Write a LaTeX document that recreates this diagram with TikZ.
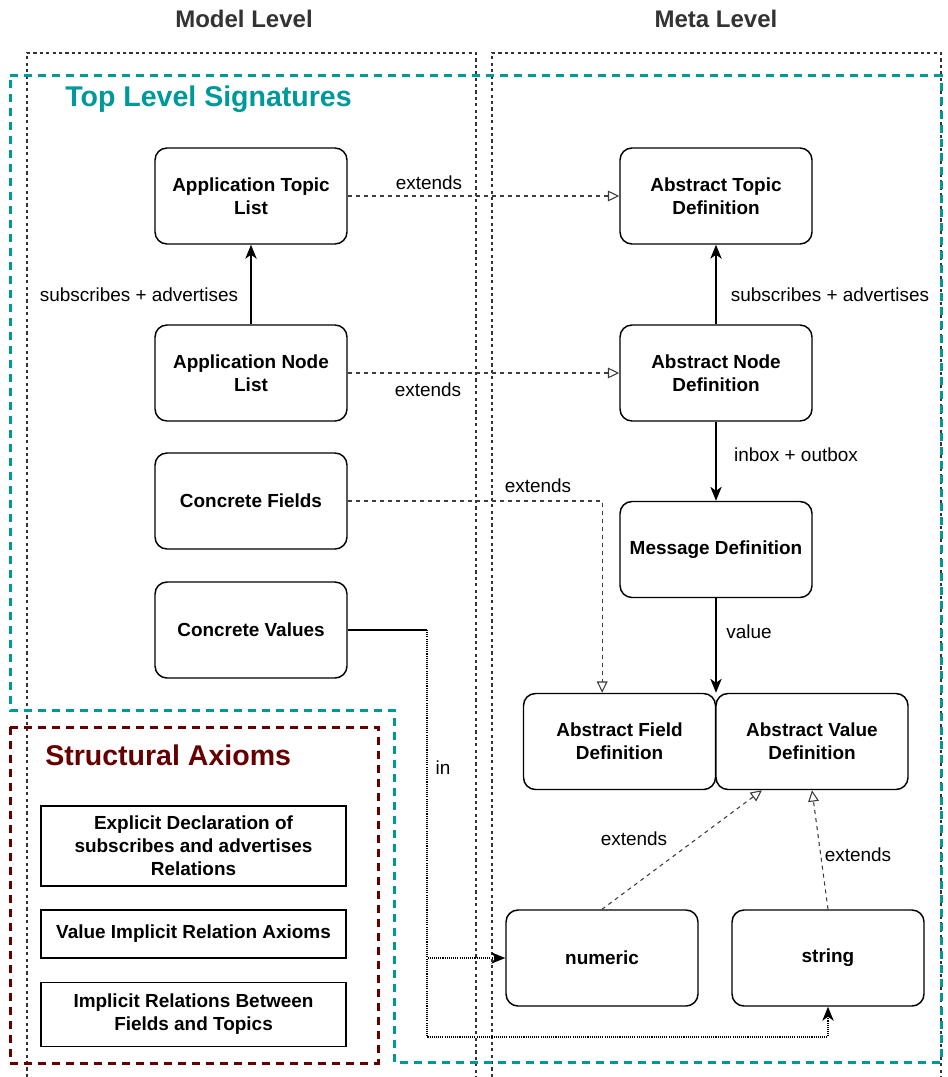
\documentclass[tikz,border=0pt]{standalone}
\usepackage{fontspec}
\setmainfont{Liberation Sans}
\usetikzlibrary{arrows.meta}
\definecolor{sigteal}{RGB}{0,153,153}
\definecolor{axred}{RGB}{102,0,0}
\definecolor{levelgray}{RGB}{51,51,51}
\definecolor{linkgray}{RGB}{60,60,60}
\newcommand{\boxfont}{\fontsize{14.2}{17.2}\selectfont\bfseries}
\newcommand{\lblfont}{\fontsize{14.2}{17.2}\selectfont}
\begin{document}
\begin{tikzpicture}[x=0.75pt,y=-0.75pt,
  box/.style={draw, rounded corners=9pt, line width=1.1pt, fill=white,
    minimum width=144pt, minimum height=72pt, align=center, font=\boxfont, inner sep=0pt},
  axiom/.style={draw, line width=1.1pt, fill=white, minimum width=228.75pt,
    align=center, font=\boxfont, inner sep=0pt},
  lbl/.style={font=\lblfont, inner sep=1pt},
  level/.style={draw=levelgray, line width=0.8pt, dash pattern=on 2.4pt off 2.4pt},
  group/.style={line width=2.25pt, dash pattern=on 6pt off 4.5pt},
  rel/.style={line width=1.1pt, -{Stealth[length=10.5pt, width=8.5pt, inset=3pt]}},
  ext/.style={draw=linkgray, line width=0.8pt, dash pattern=on 3pt off 3pt,
    -{Triangle[open, length=8.5pt, width=8pt]}},
  inlink/.style={line width=1pt, dash pattern=on 0.8pt off 0.8pt,
    -{Stealth[length=10.5pt, width=8.5pt, inset=3pt]}}
]
\useasboundingbox (0,0) rectangle (947,1077);

% column headings
\node[font=\fontsize{18}{21}\selectfont\bfseries, text=levelgray] (hmodel) at (244,19) {Model Level};
\node[font=\fontsize{18}{21}\selectfont\bfseries, text=levelgray] (hmeta) at (716,19) {Meta Level};

% level columns (open at the bottom)
\draw[level] (27,1077) -- (27,53) -- (476,53) -- (476,1077);
\draw[level] (492,1077) -- (492,53) -- (941,53) -- (941,1077);

% group outlines
\draw[group, draw=sigteal] (10,76) -- (941,76) -- (941,1062) -- (394,1062) -- (394,710) -- (10,710) -- cycle;
\draw[group, draw=axred] (10,727) rectangle (378,1063);

\node[font=\fontsize{21.4}{25}\selectfont\bfseries, text=sigteal, anchor=west, inner sep=0pt] (tls) at (65,99) {Top Level Signatures};
\node[font=\fontsize{21.4}{25}\selectfont\bfseries, text=axred, anchor=west, inner sep=0pt] (sax) at (45,755) {Structural Axioms};

% structural axioms
\node[axiom, minimum height=60pt] (ax1) at (193.5,846) {Explicit Declaration of\\subscribes and advertises\\Relations};
\node[axiom, minimum height=36pt] (ax2) at (193.5,934) {Value Implicit Relation Axioms};
\node[axiom, minimum height=48pt] (ax3) at (193.5,1014.5) {Implicit Relations Between\\Fields and Topics};

% model level
\node[box] (atl) at (251,196) {Application Topic\\List};
\node[box] (anl) at (251,373) {Application Node\\List};
\node[box] (cf)  at (251,501) {Concrete Fields};
\node[box] (cv)  at (251,630) {Concrete Values};

% meta level
\node[box] (atd) at (716,196) {Abstract Topic\\Definition};
\node[box] (and) at (716,373) {Abstract Node\\Definition};
\node[box] (msg) at (716,549.5) {Message Definition};
\node[box] (afd) at (619.5,741.5) {Abstract Field\\Definition};
\node[box] (avd) at (812,741.5) {Abstract Value\\Definition};
\node[box] (num) at (602,958) {numeric};
\node[box] (str) at (828,958) {string};

% relations
\draw[rel] (anl) -- (atl);
\node[lbl] (l1) at (139,295) {subscribes + advertises};
\draw[rel] (and) -- (atd);
\node[lbl] (l2) at (830,295) {subscribes + advertises};
\draw[rel] (and) -- (msg);
\node[lbl] (l3) at (796,455) {inbox + outbox};
\draw[rel] (msg.south) -- (msg.south |- avd.north);
\node[lbl] (l4) at (749,632) {value};

% extends
\draw[ext] (atl) -- (atd);
\node[lbl] (e1) at (429,183) {extends};
\draw[ext] (anl) -- (and);
\node[lbl] (e2) at (428,390) {extends};
\draw[ext] (cf.east) -| ([xshift=-13pt]afd.north);
\node[lbl] (e3) at (538,486) {extends};
\draw[ext] (num.north) -- ([xshift=-37.5pt]avd.south);
\node[lbl] (e4) at (634,839) {extends};
\draw[ext] (str.north) -- (avd.south);
\node[lbl] (e5) at (858,855) {extends};

% concrete values are in numeric / string
\coordinate (cvturn) at (427,630);
\coordinate (cvloop) at (427,1037);
\draw[line width=1.1pt] (cv.east) -- (cvturn);
\draw[inlink] (cvturn) |- (num.west);
\draw[inlink] (cvturn) -- (cvloop) -| (str.south);
\node[lbl] (l5) at (443,768) {in};
\end{tikzpicture}
\end{document}
